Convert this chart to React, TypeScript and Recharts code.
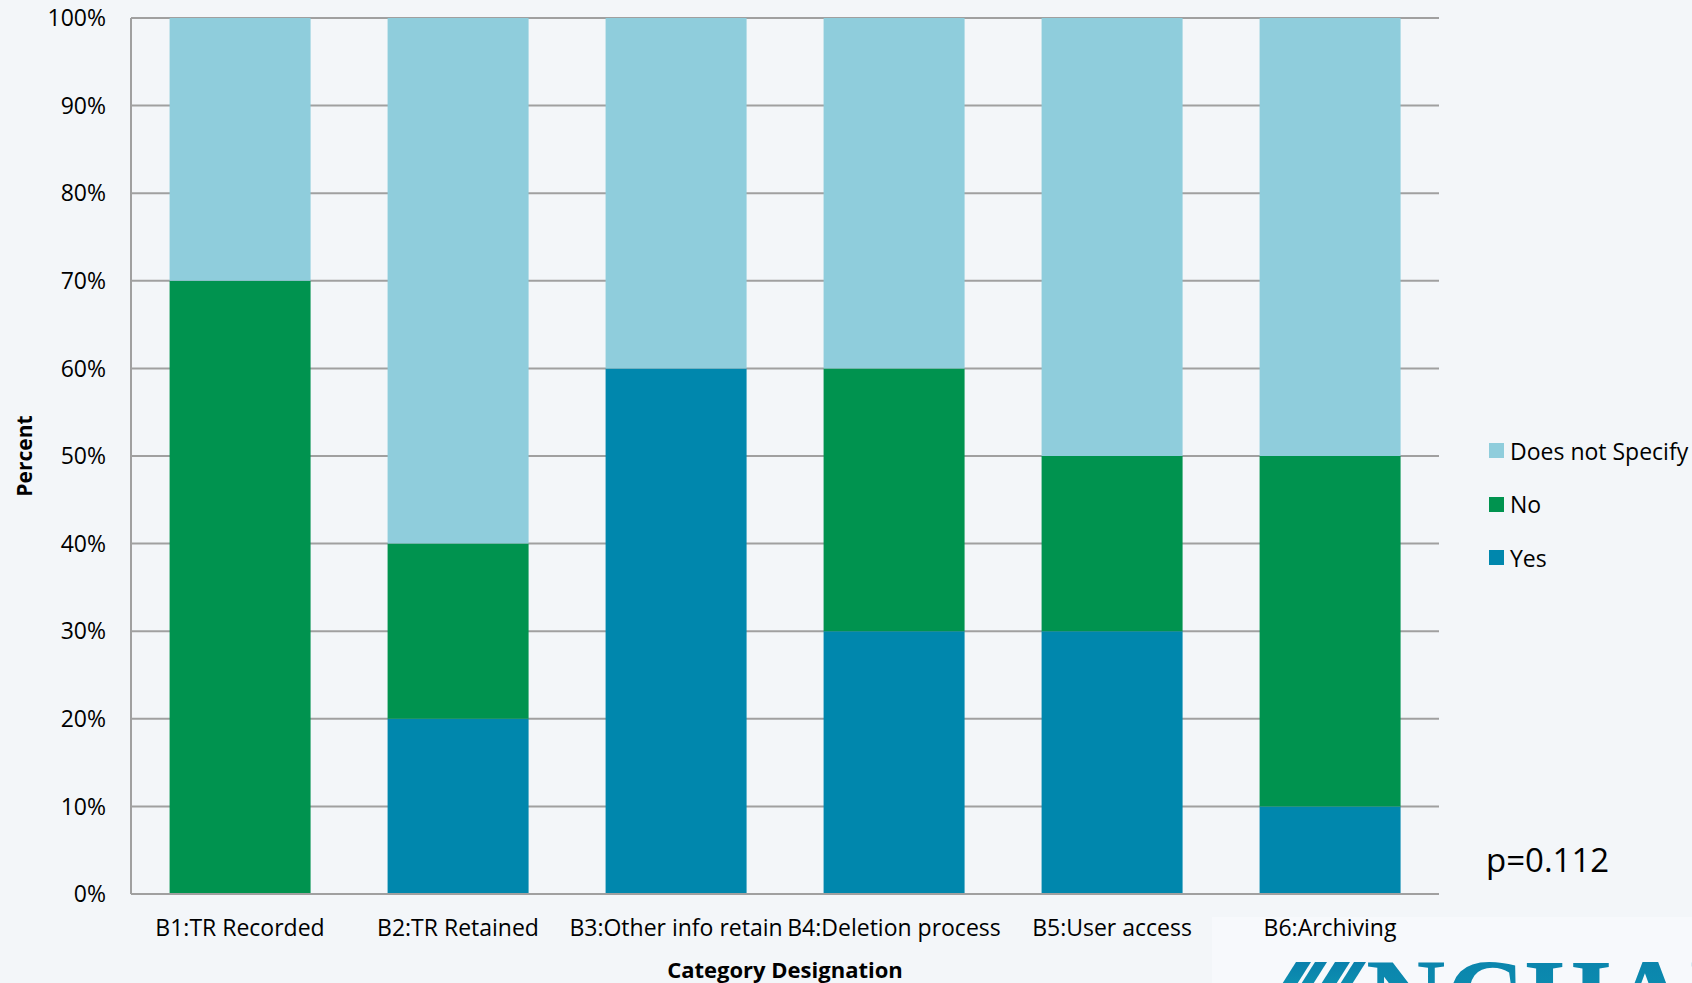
import React from 'react';
import { BarChart, Bar, XAxis, YAxis, CartesianGrid, Legend, Label } from 'recharts';

// Category designations along the x axis
const categories = [
  'B1:TR Recorded',
  'B2:TR Retained',
  'B3:Other info retain',
  'B4:Deletion process',
  'B5:User access',
  'B6:Archiving',
];

// Percent of responses per category, stacked bottom to top: Yes, No, Does not Specify
const yesValues = [0, 20, 60, 30, 30, 10];
const noValues = [70, 20, 0, 30, 20, 40];
const unspecifiedValues = [30, 60, 40, 40, 50, 50];

// Y axis ticks in percent
const percentTicks = [0, 10, 20, 30, 40, 50, 60, 70, 80, 90, 100];

// Legend entries, top to bottom
const legendOrder = ['Does not Specify', 'No', 'Yes'];

const pValueText = 'p=0.112';

const data = categories.map((category, i) => ({
  category,
  yes: yesValues[i],
  no: noValues[i],
  unspecified: unspecifiedValues[i],
}));

const FONT = '"Open Sans", "Noto Sans", sans-serif';
const BG = '#F3F6F9';
const GRID = '#A0A0A0';
const COLOR_YES = '#0087AD';
const COLOR_NO = '#00934F';
const COLOR_UNSPEC = '#8FCDDC';

const WIDTH = 1692;
const HEIGHT = 983;

const StackLegend = (props: any) => {
  const items = [...(props.payload || [])].sort(
    (a: any, b: any) => legendOrder.indexOf(a.value) - legendOrder.indexOf(b.value)
  );
  return (
    <ul style={{ listStyle: 'none', margin: 0, padding: 0, fontFamily: FONT }}>
      {items.map((item: any) => (
        <li
          key={item.value}
          style={{ height: 53.5, display: 'flex', alignItems: 'center', fontSize: 23, color: '#000' }}
        >
          <span
            style={{ display: 'inline-block', width: 15, height: 15, background: item.color, marginRight: 6 }}
          />
          {item.value}
        </li>
      ))}
    </ul>
  );
};

const PercentTitle = (props: any) => {
  const vb = props.viewBox || { y: 18, height: 876 };
  const cx = 24;
  const cy = vb.y + vb.height / 2;
  return (
    <text
      x={cx}
      y={cy}
      transform={`rotate(-90 ${cx} ${cy})`}
      textAnchor="middle"
      dominantBaseline="central"
      style={{ fontFamily: FONT, fontSize: 21, fontWeight: 700, fill: '#000' }}
    >
      Percent
    </text>
  );
};

export default function App() {
  return (
    <div
      style={{
        position: 'fixed',
        left: 0,
        top: 0,
        width: WIDTH,
        height: HEIGHT,
        overflow: 'hidden',
        background: BG,
        fontFamily: FONT,
      }}
    >
      {/* lighter panel behind the logo */}
      <div
        style={{ position: 'absolute', left: 1212, top: 917, width: WIDTH - 1212, height: HEIGHT - 917, background: '#F7F9FC' }}
      />
      <div style={{ position: 'absolute', left: 0, top: 0 }}>
        <BarChart
          width={WIDTH}
          height={HEIGHT}
          data={data}
          margin={{ top: 18, right: 253, bottom: 0, left: 0 }}
          barCategoryGap="17.7%"
        >
          <CartesianGrid vertical={false} stroke={GRID} strokeWidth={2} />
          <XAxis
            dataKey="category"
            interval={0}
            height={89}
            tickLine={false}
            tickSize={0}
            tickMargin={26}
            axisLine={{ stroke: GRID, strokeWidth: 2 }}
            tick={{ fontSize: 23, fill: '#000', fontFamily: FONT }}
          >
            <Label
              value="Category Designation"
              position="insideBottom"
              offset={5}
              style={{ fontFamily: FONT, fontSize: 22, fontWeight: 700, fill: '#000' }}
            />
          </XAxis>
          <YAxis
            width={131}
            domain={[0, 100]}
            ticks={percentTicks}
            tickFormatter={(v: number) => `${v}%`}
            tickLine={false}
            tickSize={0}
            tickMargin={25}
            axisLine={{ stroke: GRID, strokeWidth: 2 }}
            tick={{ fontSize: 23, fill: '#000', fontFamily: FONT }}
          >
            <Label content={<PercentTitle />} />
          </YAxis>
          <Legend
            layout="vertical"
            align="center"
            verticalAlign="middle"
            content={<StackLegend />}
            wrapperStyle={{ position: 'absolute', left: 1489, top: 424, width: 200 }}
          />
          <Bar dataKey="yes" name="Yes" stackId="s" fill={COLOR_YES} isAnimationActive={false} />
          <Bar dataKey="no" name="No" stackId="s" fill={COLOR_NO} isAnimationActive={false} />
          <Bar dataKey="unspecified" name="Does not Specify" stackId="s" fill={COLOR_UNSPEC} isAnimationActive={false} />
        </BarChart>
      </div>
      <svg
        width={WIDTH}
        height={HEIGHT}
        style={{ position: 'absolute', left: 0, top: 0, pointerEvents: 'none' }}
      >
        <defs>
          <linearGradient id="logoFill" x1="0" y1="0" x2="0" y2="1">
            <stop offset="0%" stopColor="#0A80AC" />
            <stop offset="100%" stopColor="#0E9AB2" />
          </linearGradient>
        </defs>
        <text x={1486} y={872} style={{ fontFamily: FONT, fontSize: 33, fill: '#000' }}>
          {pValueText}
        </text>
        {/* logo: slanted marks and wordmark */}
        <g fill="url(#logoFill)">
          <polygon points="1296,962 1311,962 1287,1000 1272,1000" />
          <polygon points="1315,962 1327,962 1303,1000 1291,1000" />
          <polygon points="1335,962 1350,962 1326,1000 1311,1000" />
          <polygon points="1354,962 1366,962 1342,1000 1330,1000" />
          <text
            x={1366}
            y={1035}
            style={{ fontFamily: '"Liberation Serif", "DejaVu Serif", serif', fontSize: 110, fontWeight: 700 }}
          >
            NCHAM
          </text>
        </g>
      </svg>
    </div>
  );
}
